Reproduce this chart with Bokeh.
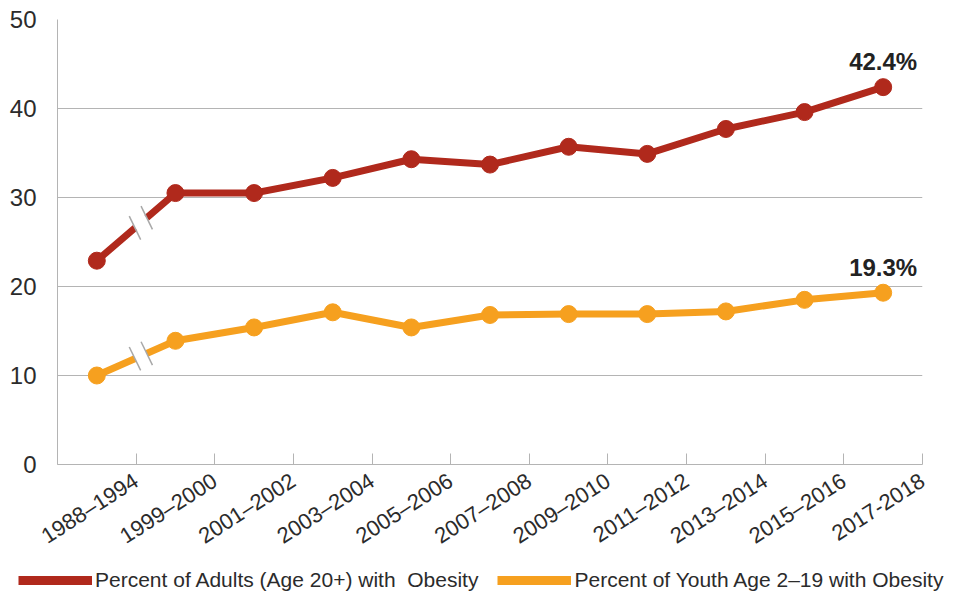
import math
from bokeh.plotting import figure
from bokeh.layouts import column, row
from bokeh.models import (Range1d, FixedTicker, Legend, LegendItem, ColumnDataSource)
from bokeh.core.properties import value
from bokeh.embed import file_html
from bokeh.resources import INLINE

# Survey periods and obesity prevalence (%)
periods = ["1988–1994", "1999–2000", "2001–2002", "2003–2004", "2005–2006",
           "2007–2008", "2009–2010", "2011–2012", "2013–2014", "2015–2016", "2017-2018"]
adults = [22.9, 30.5, 30.5, 32.2, 34.3, 33.7, 35.7, 34.9, 37.7, 39.6, 42.4]
youth = [10.0, 13.9, 15.4, 17.1, 15.4, 16.8, 16.9, 16.9, 17.2, 18.5, 19.3]
y_ticks = [0, 10, 20, 30, 40, 50]
series_names = ["Percent of Adults (Age 20+) with  Obesity",
                "Percent of Youth Age 2–19 with Obesity"]

ADULT_COLOR = "#B0291C"
YOUTH_COLOR = "#F6A01F"
TEXT_COLOR = "#2b2b2b"
GRID_COLOR = "#b4b4b4"

W, H_MAIN, H_LEG = 964, 567, 26

# each period occupies one unit; points sit in the middle of their slot
xs = [i + 0.5 for i in range(len(periods))]

p = figure(width=W, height=H_MAIN, output_backend="svg", toolbar_location=None,
           x_range=Range1d(0, len(periods)), y_range=Range1d(0, 50),
           min_border_left=57, min_border_right=42, min_border_top=19,
           min_border_bottom=103)
p.outline_line_color = None
p.background_fill_color = "white"
p.border_fill_color = "white"

# y axis
p.yaxis.ticker = FixedTicker(ticks=y_ticks)
p.yaxis.major_tick_line_color = None
p.yaxis.minor_tick_line_color = None
p.yaxis.axis_line_color = GRID_COLOR
p.yaxis.major_label_text_font = "Liberation Sans"
p.yaxis.major_label_text_font_size = "24px"
p.yaxis.major_label_text_color = TEXT_COLOR
p.yaxis.major_label_standoff = 15
p.ygrid.grid_line_color = GRID_COLOR
p.ygrid.ticker = FixedTicker(ticks=y_ticks)

# x axis: ticks at slot boundaries, labels hung off each slot's right boundary
bounds = list(range(len(periods) + 1))
p.xaxis.ticker = FixedTicker(ticks=bounds)
p.xaxis.major_label_overrides = {b: (periods[b - 1] if b > 0 else "") for b in bounds}
p.xaxis.major_label_orientation = 0.57
p.xaxis.major_label_text_font = "Liberation Sans"
p.xaxis.major_label_text_font_size = "22px"
p.xaxis.major_label_text_color = TEXT_COLOR
p.xaxis.major_tick_in = 11
p.xaxis.major_tick_out = 0
p.xaxis.major_tick_line_color = GRID_COLOR
p.xaxis.minor_tick_line_color = None
p.xaxis.axis_line_color = GRID_COLOR
p.xaxis.major_label_standoff = 14
p.xgrid.grid_line_color = None

# series lines and markers
for vals, color in ((adults, ADULT_COLOR), (youth, YOUTH_COLOR)):
    p.line(xs, vals, line_color=color, line_width=7)
    p.scatter(xs, vals, size=17, fill_color=color, line_color=color)

# axis-break symbol on the first segment of each line (gap in the survey years)
brk_c, brk_half = 1.06, 0.075
for vals in (adults, youth):
    def at(x):
        t = (x - xs[0]) / (xs[1] - xs[0])
        return vals[0] + t * (vals[1] - vals[0])
    x0, x1 = brk_c - brk_half, brk_c + brk_half
    p.segment(x0=[x0], y0=[at(x0)], x1=[x1], y1=[at(x1)],
              line_color="white", line_width=10)
    p.scatter([x0, x1], [at(x0), at(x1)], marker="dash", size=26,
              angle=math.radians(-64), line_color="#a8a8a8", line_width=1.5)

# value labels on the latest period
last = len(periods) - 1
lbl = ColumnDataSource(dict(x=[xs[last], xs[last]], y=[adults[last], youth[last]],
                            t=[f"{adults[last]}%", f"{youth[last]}%"]))
p.text(x="x", y="y", text="t", source=lbl, text_align="center",
       text_baseline="bottom", y_offset=-12, text_font=value("Liberation Sans"),
       text_font_style="bold", text_font_size="24px", text_color="#222222")

# legend strip underneath the chart (its renderers sit outside the visible range)
lf = figure(width=W, height=H_LEG, output_backend="svg", toolbar_location=None,
            x_range=Range1d(0, 1), y_range=Range1d(0, 1),
            x_axis_location=None, y_axis_location=None,
            min_border=0, outline_line_color=None)
lf.grid.visible = False
items = []
for name, color in zip(series_names, (ADULT_COLOR, YOUTH_COLOR)):
    src = ColumnDataSource(dict(x=[5, 6], y=[5, 6]))
    ln = lf.line("x", "y", source=src, line_color=color, line_width=9)
    dot = lf.scatter("x", "y", source=src, size=7, fill_color=color, line_color=color)
    items.append(LegendItem(label=name, renderers=[ln, dot]))

legend = Legend(items=items, orientation="horizontal", location=(18, 1),
                border_line_color=None, background_fill_alpha=0,
                padding=0, margin=0, spacing=19,
                glyph_width=74, glyph_height=18, label_standoff=3,
                label_text_font="Liberation Sans", label_text_font_size="21px",
                label_text_color=TEXT_COLOR)
lf.add_layout(legend, "center")

open("out.html", "w").write(file_html(column(p, row(lf), spacing=0), INLINE))
